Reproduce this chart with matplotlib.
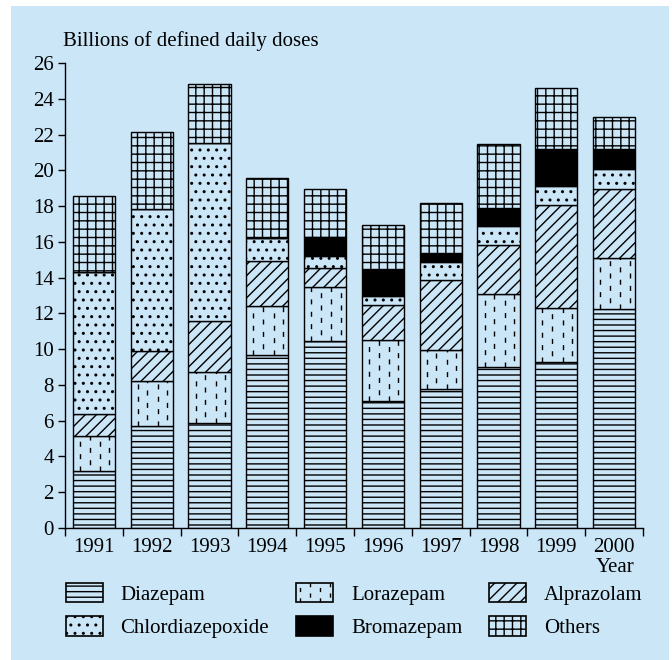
import numpy as np
import matplotlib
matplotlib.use('Agg')
import matplotlib.pyplot as plt
from matplotlib.patches import Rectangle, Patch
from matplotlib.lines import Line2D

# data (billions of defined daily doses)
years = ['1991', '1992', '1993', '1994', '1995', '1996', '1997', '1998', '1999', '2000']
diazepam = [3.2, 5.7, 5.85, 9.7, 10.45, 7.1, 7.75, 9.0, 9.3, 12.25]
lorazepam = [1.95, 2.5, 2.9, 2.7, 3.0, 3.4, 2.2, 4.1, 3.0, 2.85]
alprazolam = [1.25, 1.7, 2.8, 2.55, 1.1, 1.95, 3.9, 2.7, 5.75, 3.85]
chlordiazepoxide = [7.9, 7.95, 9.95, 1.25, 0.65, 0.55, 1.0, 1.1, 1.1, 1.15]
bromazepam = [0, 0, 0, 0, 1.05, 1.5, 0.5, 1.0, 2.05, 1.1]
others = [4.25, 4.3, 3.3, 3.35, 2.7, 2.45, 2.8, 3.55, 3.4, 1.8]

y_ticks = list(range(0, 27, 2))

BLUE = '#cbe6f7'
FONT = 15
DASH_COLS = [0.17, 0.40, 0.65, 0.87]

plt.rcParams['font.family'] = ['Liberation Serif', 'DejaVu Serif']
plt.rcParams['hatch.linewidth'] = 1.0


def dashed_fill(ax, rect):
    """ draws the broken vertical lines used for lorazepam inside one bar """
    x0, y0 = rect.get_x(), rect.get_y()
    w, h = rect.get_width(), rect.get_height()
    for i, frac in enumerate(DASH_COLS):
        offset = 0 if i % 2 == 0 else 4.4
        ax.plot([x0 + frac * w] * 2, [y0, y0 + h], color='k', lw=1.0,
                linestyle=(offset, (3.6, 5.3)), clip_path=rect, zorder=3)


class DashHandler:
    """ legend handle for the lorazepam pattern """
    def legend_artist(self, legend, orig_handle, fontsize, handlebox):
        x0, y0 = -handlebox.xdescent, -handlebox.ydescent
        w, h = handlebox.width, handlebox.height
        tr = handlebox.get_transform()
        box = Rectangle((x0, y0), w, h, facecolor=BLUE, edgecolor='k',
                        lw=1.2, transform=tr)
        handlebox.add_artist(box)
        for i, frac in enumerate([0.1, 0.37, 0.63, 0.9]):
            offset = 0 if i % 2 == 0 else 4.0
            ln = Line2D([x0 + frac * w] * 2, [y0, y0 + h], color='k', lw=1.0,
                        linestyle=(offset, (3.0, 4.5)), transform=tr)
            handlebox.add_artist(ln)
        return box


fig = plt.figure(figsize=(6.72, 6.6), dpi=100)

# light blue panel behind everything
fig.patches.append(Rectangle((11 / 672, 0), 658 / 672, 654 / 660,
                             transform=fig.transFigure, facecolor=BLUE,
                             edgecolor='none', zorder=-1))

ax = fig.add_axes([65 / 672, 1 - 528 / 660, 578 / 672, 465 / 660])
ax.set_facecolor('none')

x = np.arange(len(years))
width = 0.727

series = [
    ('Diazepam', diazepam, '---', BLUE),
    ('Lorazepam', lorazepam, None, BLUE),
    ('Alprazolam', alprazolam, '///', BLUE),
    ('Chlordiazepoxide', chlordiazepoxide, '..', BLUE),
    ('Bromazepam', bromazepam, None, 'black'),
    ('Others', others, '++', BLUE),
]

bottom = np.zeros(len(years))
handles = {}
for name, vals, hatch, face in series:
    bars = ax.bar(x, vals, width, bottom=bottom, facecolor=face,
                  edgecolor='black', hatch=hatch, lw=1.0, zorder=2)
    if name == 'Lorazepam':
        for rect in bars:
            dashed_fill(ax, rect)
        handles[name] = Patch(facecolor=BLUE, edgecolor='k', label=name)
    else:
        handles[name] = Patch(facecolor=face, edgecolor='k', hatch=hatch,
                              lw=1.2, label=name)
    bottom += np.array(vals)

# axes styling
ax.set_xlim(-0.5, len(years) - 0.5)
ax.set_ylim(0, 26)
ax.spines['top'].set_visible(False)
ax.spines['right'].set_visible(False)
ax.spines['left'].set_linewidth(1.0)
ax.spines['bottom'].set_linewidth(1.0)

ax.set_yticks(y_ticks)
ax.tick_params(axis='y', length=5, width=1.0, pad=3, labelsize=FONT)

# boundaries get the tick marks, year labels sit at bar centres
ax.set_xticks(np.arange(-0.5, len(years), 1.0))
ax.set_xticklabels([])
ax.set_xticks(x, minor=True)
ax.set_xticklabels(years, minor=True)
ax.tick_params(axis='x', which='major', length=5.5, width=1.0)
ax.tick_params(axis='x', which='minor', length=0, pad=7, labelsize=FONT)

fig.text(63 / 672, 1 - 41 / 660, 'Billions of defined daily doses',
         fontsize=FONT, va='center', ha='left')
fig.text(615 / 672, 1 - 568 / 660, 'Year', fontsize=FONT,
         va='center', ha='center')

order = ['Diazepam', 'Chlordiazepoxide', 'Lorazepam', 'Bromazepam',
         'Alprazolam', 'Others']
fig.legend([handles[k] for k in order], order, ncol=3, frameon=False,
           loc='upper left', bbox_to_anchor=(65.7 / 672, 1 - 583 / 660),
           borderpad=0, borderaxespad=0, fontsize=FONT,
           handlelength=1.78, handleheight=1.06, handletextpad=0.85,
           columnspacing=1.3, labelspacing=0.55,
           handler_map={handles['Lorazepam']: DashHandler()})

fig.savefig('out.png', dpi=100)
